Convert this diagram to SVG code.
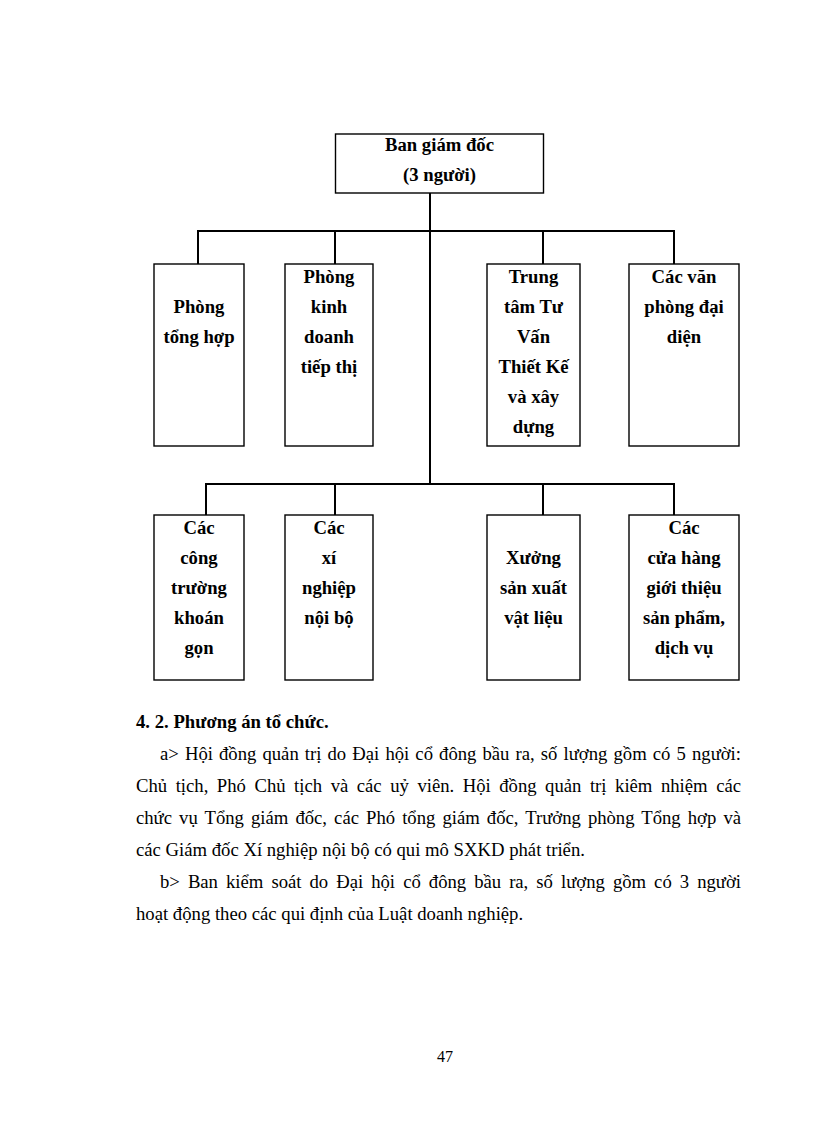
<svg xmlns="http://www.w3.org/2000/svg" width="816" height="1123" viewBox="0 0 816 1123">
<style>
.box{fill:#fff;stroke:#000;stroke-width:1.4}
.lbl{font-family:"Liberation Serif","Times New Roman",serif;font-weight:bold;font-size:18.7px;fill:#000;text-anchor:middle}
.con{fill:none;stroke:#000;stroke-width:2}
.body{font-family:"Liberation Serif","Times New Roman",serif;font-size:18.7px;fill:#000}
.head{font-family:"Liberation Serif","Times New Roman",serif;font-size:18.7px;font-weight:bold;fill:#000}
</style>
<rect width="816" height="1123" fill="#fff"/>
<g id="connectors">
<path class="con" d="M430 193V484"/>
<path class="con" d="M198 264V231H674V264M335 231V264M543 231V264"/>
<path class="con" d="M206 515V484H674V515M335 484V515M543 484V515"/>
</g>
<g id="ban-giam-doc">
<rect class="box" x="335.5" y="134" width="208" height="59"/>
<text class="lbl" x="439.5" y="151">Ban giám đốc</text>
<text class="lbl" x="439.5" y="181">(3 người)</text>
</g>
<g id="phong-tong-hop">
<rect class="box" x="154" y="264" width="90" height="182"/>
<text class="lbl" x="199" y="313">Phòng</text>
<text class="lbl" x="199" y="343">tổng hợp</text>
</g>
<g id="phong-kinh-doanh">
<rect class="box" x="285" y="264" width="88" height="182"/>
<text class="lbl" x="329" y="283">Phòng</text>
<text class="lbl" x="329" y="313">kinh</text>
<text class="lbl" x="329" y="343">doanh</text>
<text class="lbl" x="329" y="373">tiếp thị</text>
</g>
<g id="trung-tam">
<rect class="box" x="487" y="264" width="93" height="182"/>
<text class="lbl" x="533.5" y="283">Trung</text>
<text class="lbl" x="533.5" y="313">tâm Tư</text>
<text class="lbl" x="533.5" y="343">Vấn</text>
<text class="lbl" x="533.5" y="373">Thiết Kế</text>
<text class="lbl" x="533.5" y="403">và xây</text>
<text class="lbl" x="533.5" y="433">dựng</text>
</g>
<g id="van-phong-dai-dien">
<rect class="box" x="629" y="264" width="110" height="182"/>
<text class="lbl" x="684" y="283">Các văn</text>
<text class="lbl" x="684" y="313">phòng đại</text>
<text class="lbl" x="684" y="343">diện</text>
</g>
<g id="cong-truong">
<rect class="box" x="154" y="515" width="90" height="165"/>
<text class="lbl" x="199" y="534">Các</text>
<text class="lbl" x="199" y="564">công</text>
<text class="lbl" x="199" y="594">trường</text>
<text class="lbl" x="199" y="624">khoán</text>
<text class="lbl" x="199" y="654">gọn</text>
</g>
<g id="xi-nghiep">
<rect class="box" x="285" y="515" width="88" height="165"/>
<text class="lbl" x="329" y="534">Các</text>
<text class="lbl" x="329" y="564">xí</text>
<text class="lbl" x="329" y="594">nghiệp</text>
<text class="lbl" x="329" y="624">nội bộ</text>
</g>
<g id="xuong-san-xuat">
<rect class="box" x="487" y="515" width="93" height="165"/>
<text class="lbl" x="533.5" y="564">Xưởng</text>
<text class="lbl" x="533.5" y="594">sản xuất</text>
<text class="lbl" x="533.5" y="624">vật liệu</text>
</g>
<g id="cua-hang">
<rect class="box" x="629" y="515" width="110" height="165"/>
<text class="lbl" x="684" y="534">Các</text>
<text class="lbl" x="684" y="564">cửa hàng</text>
<text class="lbl" x="684" y="594">giới thiệu</text>
<text class="lbl" x="684" y="624">sản phẩm,</text>
<text class="lbl" x="684" y="654">dịch vụ</text>
</g>
<g id="paragraph">
<text class="head" x="136" y="728">4. 2. Phương án tổ chức.</text>
<text class="body" x="160" y="760" word-spacing="1.5" textLength="581" lengthAdjust="spacing">a&gt; Hội đồng quản trị do Đại hội cổ đông bầu ra, số lượng gồm có 5 người:</text>
<text class="body" x="136" y="792" word-spacing="3.9" textLength="605" lengthAdjust="spacing">Chủ tịch, Phó Chủ tịch và các uỷ viên. Hội đồng quản trị kiêm nhiệm các</text>
<text class="body" x="136" y="824" word-spacing="2.5" textLength="605" lengthAdjust="spacing">chức vụ Tổng giám đốc, các Phó tổng giám đốc, Trưởng phòng Tổng hợp và</text>
<text class="body" x="136" y="856">các Giám đốc Xí nghiệp nội bộ có qui mô SXKD phát triển.</text>
<text class="body" x="160" y="888" word-spacing="3.5" textLength="581" lengthAdjust="spacing">b&gt; Ban kiểm soát do Đại hội cổ đông bầu ra, số lượng gồm có 3 người</text>
<text class="body" x="136" y="920">hoạt động theo các qui định của Luật doanh nghiệp.</text>
</g>
<text class="body" x="445" y="1062" text-anchor="middle" style="font-size:16px">47</text>
</svg>
